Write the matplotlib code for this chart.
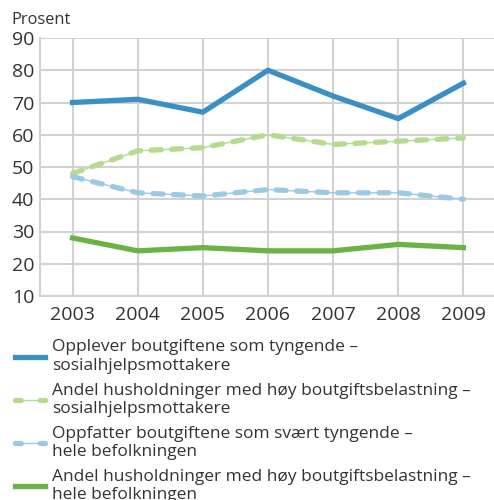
import numpy as np
import matplotlib
matplotlib.use('Agg')
import matplotlib.pyplot as plt
from matplotlib.lines import Line2D

plt.rcParams['font.family'] = ['Open Sans', 'DejaVu Sans']

# data
years = [2003, 2004, 2005, 2006, 2007, 2008, 2009]
tyngende_sos = [70, 71, 67, 80, 72, 65, 76]
hoy_belast_sos = [48, 55, 56, 60, 57, 58, 59]
svaert_tyngende_alle = [47, 42, 41, 43, 42, 42, 40]
hoy_belast_alle = [28, 24, 25, 24, 24, 26, 25]

labels = ['Opplever boutgiftene som tyngende –\nsosialhjelpsmottakere',
          'Andel husholdninger med høy boutgiftsbelastning –\nsosialhjelpsmottakere',
          'Oppfatter boutgiftene som svært tyngende –\nhele befolkningen',
          'Andel husholdninger med høy boutgiftsbelastning –\nhele befolkningen']

C_BLUE = '#3a8fc4'
C_LGREEN = '#b6da8e'
C_LBLUE = '#9ccae4'
C_GREEN = '#6ab344'
GRID = '#d2d2d2'
TXT = '#333333'
LW = 3.8
DASH = (1.9, 2.0)

fig = plt.figure(figsize=(4.94, 5.0), dpi=100)
ax = fig.add_axes([0.081, 0.408, 0.919, 0.516])

ax.plot(years, tyngende_sos, color=C_BLUE, lw=LW, zorder=5)
# dashed series: thin line under thick rounded dashes
ax.plot(years, hoy_belast_sos, color=C_LGREEN, lw=1, zorder=4)
ax.plot(years, hoy_belast_sos, color=C_LGREEN, lw=LW, dashes=DASH,
        dash_capstyle='round', zorder=4)
ax.plot(years, svaert_tyngende_alle, color=C_LBLUE, lw=1, zorder=4)
ax.plot(years, svaert_tyngende_alle, color=C_LBLUE, lw=LW, dashes=DASH,
        dash_capstyle='round', zorder=4)
ax.plot(years, hoy_belast_alle, color=C_GREEN, lw=LW, zorder=5)

ax.set_xlim(2002.5, 2009.47)
ax.set_ylim(10, 90)
ax.set_yticks(range(10, 91, 10))
ax.set_xticks(years)
ax.grid(True, color=GRID, lw=1.5)
ax.set_axisbelow(True)
for s in ['top', 'right']:
    ax.spines[s].set_visible(False)
for s in ['left', 'bottom']:
    ax.spines[s].set_color(GRID)
    ax.spines[s].set_linewidth(1.5)
ax.tick_params(length=0, labelsize=14, colors=TXT, pad=4)
ax.tick_params(axis='x', pad=7)

fig.text(0.024, 0.953, 'Prosent', fontsize=11.8, color=TXT)

def dashed_handle(c):
    thin = Line2D([], [], color=c, lw=1)
    thick = Line2D([], [], color=c, lw=LW, dashes=(1.1, 3.6), dash_capstyle='round')
    return (thin, thick)

handles = [
    Line2D([], [], color=C_BLUE, lw=LW),
    dashed_handle(C_LGREEN),
    dashed_handle(C_LBLUE),
    Line2D([], [], color=C_GREEN, lw=LW),
]
fig.legend(handles, labels, loc='upper left', bbox_to_anchor=(0.016, 0.335),
           frameon=False, fontsize=12.5, handlelength=1.75, handletextpad=0.4,
           labelspacing=0.5, borderaxespad=0, labelcolor=TXT)

fig.savefig('out.png', dpi=100)
